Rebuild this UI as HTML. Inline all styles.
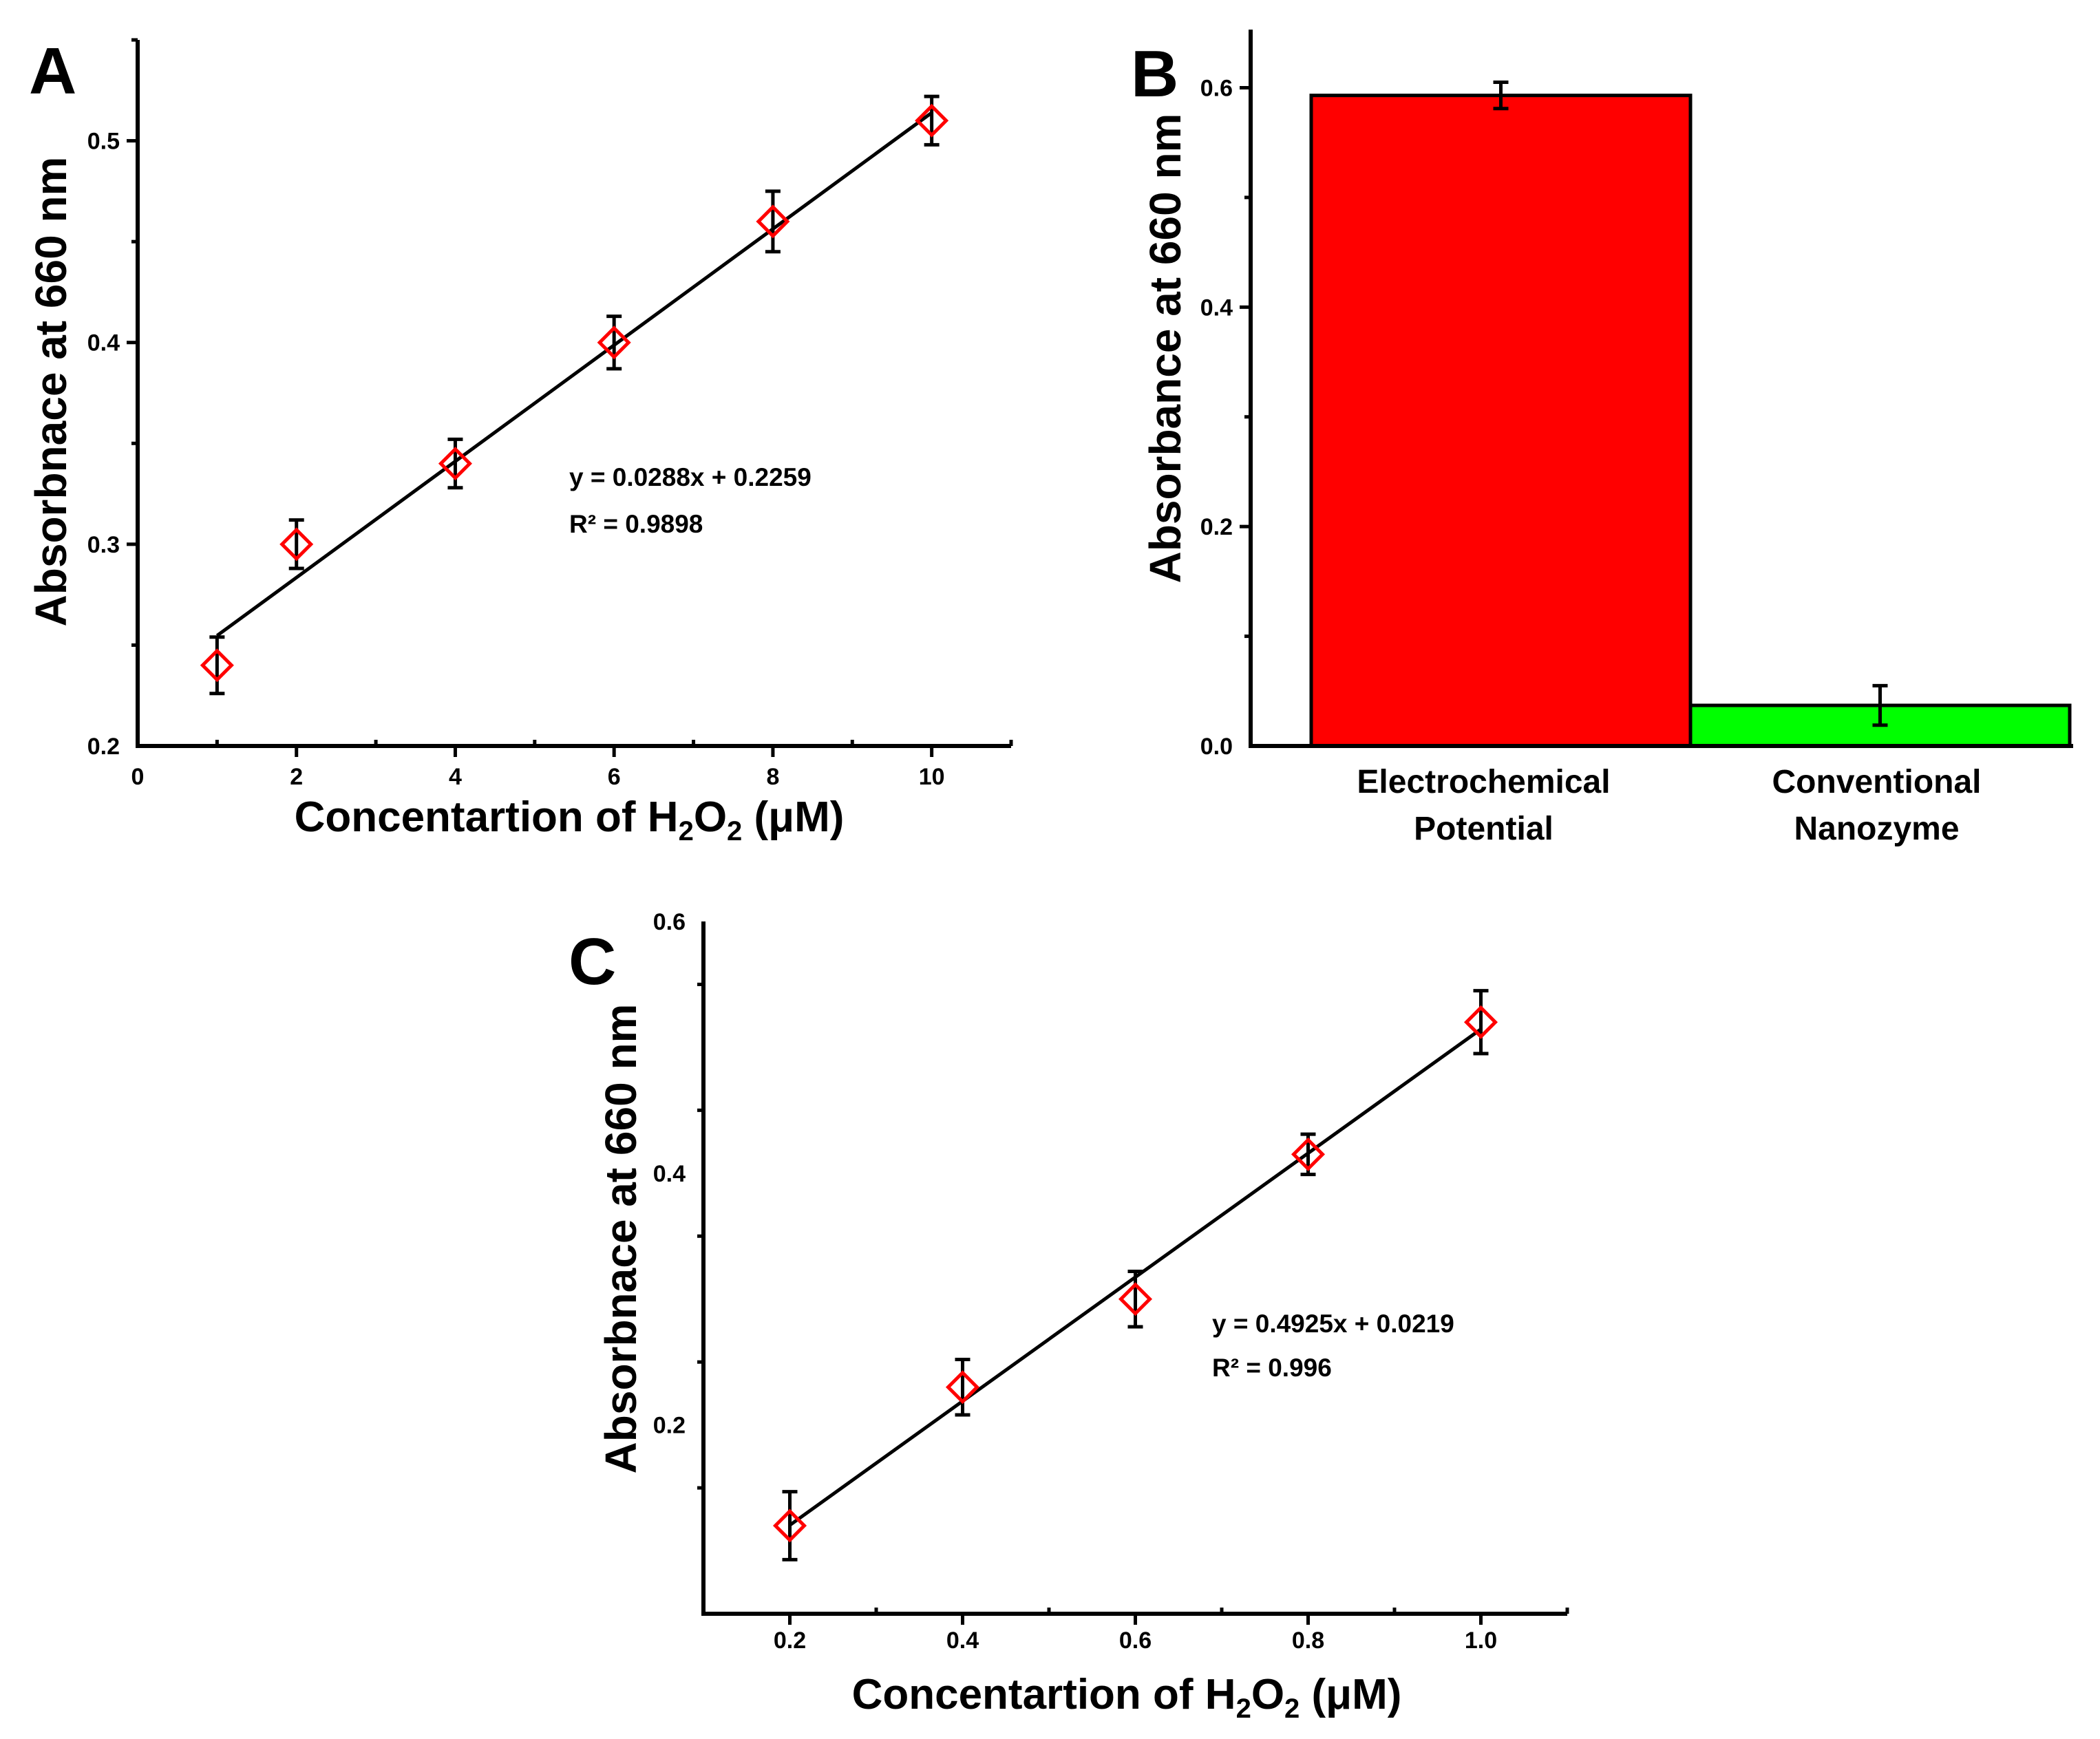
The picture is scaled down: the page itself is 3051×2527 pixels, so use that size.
<!DOCTYPE html>
<html><head><meta charset="utf-8">
<style>
html,body{margin:0;padding:0;background:#fff;}
svg{display:block;font-family:"Liberation Sans",Arial,sans-serif;font-weight:bold;}
</style></head>
<body>
<svg id="fig" width="3051" height="2527" viewBox="0 0 3051 2527" xmlns="http://www.w3.org/2000/svg">
<rect width="3051" height="2527" fill="#fff"/>
<g id="pA"></g>
<g id="pB"></g>
<g id="pC"></g>
<g>
<text x="42" y="136" font-size="96">A</text>
<text transform="translate(96,569) rotate(-90)" text-anchor="middle" font-size="64">Absorbnace at 660 nm</text>
<text x="827" y="1208" text-anchor="middle" font-size="62">Concentartion of H<tspan font-size="40" dy="13">2</tspan><tspan dy="-13">O</tspan><tspan font-size="40" dy="13">2</tspan><tspan dy="-13"> (μM)</tspan></text>
<text x="827" y="706" font-size="37">y = 0.0288x + 0.2259</text>
<text x="827" y="774" font-size="37">R² = 0.9898</text>
</g>
<g>
<text x="1643" y="140" font-size="96">B</text>
<text transform="translate(1715,506) rotate(-90)" text-anchor="middle" font-size="64">Absorbance at 660 nm</text>
</g>
<g>
<text x="826" y="1430" font-size="96">C</text>
<text transform="translate(924,1800) rotate(-90)" text-anchor="middle" font-size="64">Absorbnace at 660 nm</text>
<text x="1637" y="2483" text-anchor="middle" font-size="62">Concentartion of H<tspan font-size="40" dy="13">2</tspan><tspan dy="-13">O</tspan><tspan font-size="40" dy="13">2</tspan><tspan dy="-13"> (μM)</tspan></text>
<text x="1761" y="1936" font-size="37">y = 0.4925x + 0.0219</text>
<text x="1761" y="2000" font-size="37">R² = 0.996</text>
</g>
</svg>
<script>
// Panel A data
const aX = [1, 2, 4, 6, 8, 10];
const aY = [0.24, 0.30, 0.34, 0.40, 0.46, 0.51];
const aErr = [0.014, 0.012, 0.012, 0.013, 0.015, 0.012];
const aSlope = 0.0288, aIntercept = 0.2259;
const aXTicks = [0, 2, 4, 6, 8, 10];
const aYTicks = [0.2, 0.3, 0.4, 0.5];
// Panel B data
const bCats = ["Electrochemical|Potential", "Conventional|Nanozyme"];
const bVals = [0.593, 0.037];
const bErr = [0.012, 0.018];
const bColors = ["#ff0000", "#00ff00"];
const bYTicks = [0.0, 0.2, 0.4, 0.6];
// Panel C data
const cX = [0.2, 0.4, 0.6, 0.8, 1.0];
const cY = [0.12, 0.23, 0.30, 0.415, 0.52];
const cErr = [0.027, 0.022, 0.022, 0.016, 0.025];
const cSlope = 0.4925, cIntercept = 0.0219;
const cXTicks = [0.2, 0.4, 0.6, 0.8, 1.0];
const cYTicks = [0.2, 0.4, 0.6];

const NS = "http://www.w3.org/2000/svg";
function mk(parent, tag, attrs, text) {
  const e = document.createElementNS(NS, tag);
  for (const k in attrs) e.setAttribute(k, attrs[k]);
  if (text !== undefined) e.textContent = text;
  parent.appendChild(e);
  return e;
}
function lin(d0, d1, r0, r1) { return v => r0 + (v - d0) * (r1 - r0) / (d1 - d0); }

function scatterPanel(g, o) {
  const sx = lin(o.xd[0], o.xd[1], o.L, o.R);
  const sy = lin(o.yd[0], o.yd[1], o.B, o.T);
  let e = mk(g, "line", {x1: o.L, y1: o.B, x2: o.R, y2: o.B, stroke: "#000", "stroke-width": 6});
  
  
  e = mk(g, "line", {x1: o.L, y1: o.B + 3, x2: o.L, y2: o.T, stroke: "#000", "stroke-width": 6});
  
  
  for (let v = o.xd[0]; v <= o.xd[1] + 1e-9; v += o.xMinor) {
    const vv = Math.round(v * 1000) / 1000;
    const major = o.xTicks.some(t => Math.abs(t - vv) < 1e-6);
    const x = sx(vv);
    if (x < o.L + 2) continue;
    if (major) mk(g, "line", {x1: x, y1: o.B, x2: x, y2: o.B + 16, stroke: "#000", "stroke-width": 5});
    else mk(g, "line", {x1: x, y1: o.B, x2: x, y2: o.B - 9, stroke: "#000", "stroke-width": 5});
  }
  o.xTicks.forEach(t => {
    e = mk(g, "text", {x: sx(t), y: o.xLabelY, "text-anchor": "middle", "font-size": 34}, o.xFmt(t));
    
    
  });
  for (let v = o.yd[0]; v <= o.yd[1] + 1e-9; v += o.yMinor) {
    const vv = Math.round(v * 1000) / 1000;
    const major = o.yTicks.some(t => Math.abs(t - vv) < 1e-6);
    const y = sy(vv);
    if (y > o.B - 2) continue;
    mk(g, "line", {x1: o.L, y1: y, x2: o.L - (major ? 16 : 9), y2: y, stroke: "#000", "stroke-width": 5});
  }
  o.yTicks.forEach(t => {
    e = mk(g, "text", {x: o.L - 26, y: sy(t) + 12, "text-anchor": "end", "font-size": 34}, t.toFixed(1));
    
    
  });
  const x0 = o.xs[0], x1 = o.xs[o.xs.length - 1];
  e = mk(g, "line", {x1: sx(x0), y1: sy(o.slope * x0 + o.icpt), x2: sx(x1), y2: sy(o.slope * x1 + o.icpt), stroke: "#000", "stroke-width": 5});
  
  
  o.xs.forEach((xv, i) => {
    const cx = sx(xv), cy = sy(o.ys[i]);
    const yt = sy(o.ys[i] + o.err[i]), yb = sy(o.ys[i] - o.err[i]);
    const eb = mk(g, "path", {d: `M${cx},${yt}V${yb}M${cx-11},${yt}H${cx+11}M${cx-11},${yb}H${cx+11}`, stroke: "#000", "stroke-width": 5, fill: "none"});
    
    
    const r = 21;
    const p = mk(g, "path", {d: `M${cx},${cy-r}L${cx+r},${cy}L${cx},${cy+r}L${cx-r},${cy}Z`, stroke: "#ff0000", "stroke-width": 5, fill: "none"});
    
    
  });
}

const gA = document.getElementById("pA");
scatterPanel(gA, {L: 200, R: 1469, T: 58, B: 1084, xd: [0, 11], yd: [0.2, 0.55],
  xTicks: aXTicks, yTicks: aYTicks, xMinor: 1, yMinor: 0.05, xLabelY: 1140,
  xFmt: t => String(t), xs: aX, ys: aY, err: aErr, slope: aSlope, icpt: aIntercept});
const gC = document.getElementById("pC");
scatterPanel(gC, {L: 1022, R: 2277, T: 1339, B: 2345, xd: [0.1, 1.1], yd: [0.05, 0.6],
  xTicks: cXTicks, yTicks: cYTicks, xMinor: 0.1, yMinor: 0.1, xLabelY: 2395,
  xFmt: t => t.toFixed(1), xs: cX, ys: cY, err: cErr, slope: cSlope, icpt: cIntercept});

const gB = document.getElementById("pB");
(function () {
  const L = 1817, R = 3012, T = 43, B = 1084;
  const sy = lin(0, 0.653, B, T);
  const bx0 = 1905, bw = 551;
  bVals.forEach((v, i) => {
    const x = bx0 + i * bw;
    const r = mk(gB, "rect", {x: x, y: sy(v), width: bw, height: B - sy(v), fill: bColors[i], stroke: "#000", "stroke-width": 5});
    
    
    const cx = x + bw / 2, yt = sy(v + bErr[i]), yb = sy(v - bErr[i]);
    const eb = mk(gB, "path", {d: `M${cx},${yt}V${yb}M${cx-11},${yt}H${cx+11}M${cx-11},${yb}H${cx+11}`, stroke: "#000", "stroke-width": 5, fill: "none"});
    
    
    const parts = bCats[i].split("|");
    parts.forEach((p, j) => {
      const t = mk(gB, "text", {x: cx - 25 + i * 20, y: 1152 + j * 68, "text-anchor": "middle", "font-size": 48}, p);
      
      
    });
  });
  let e = mk(gB, "line", {x1: L, y1: B, x2: R, y2: B, stroke: "#000", "stroke-width": 6});
  
  
  e = mk(gB, "line", {x1: L, y1: B + 3, x2: L, y2: T, stroke: "#000", "stroke-width": 6});
  
  
  for (let k = 1; k <= 6; k++) {
    const y = sy(k / 10), major = k % 2 === 0;
    mk(gB, "line", {x1: L, y1: y, x2: L - (major ? 16 : 9), y2: y, stroke: "#000", "stroke-width": 5});
  }
  bYTicks.forEach(t => {
    const tx = mk(gB, "text", {x: L - 26, y: sy(t) + 12, "text-anchor": "end", "font-size": 34}, t.toFixed(1));
    
    
  });
})();
</script>
</body></html>
